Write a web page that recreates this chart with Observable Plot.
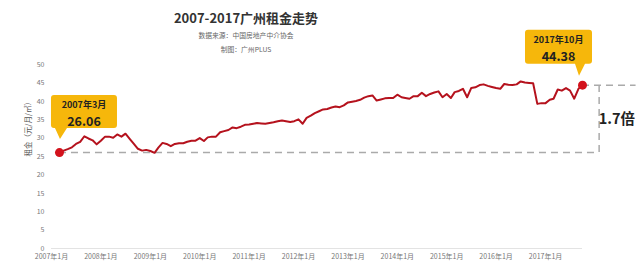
<!DOCTYPE html>
<html><head><meta charset="utf-8">
<script src="https://cdn.jsdelivr.net/npm/d3@7"></script>
<script src="https://cdn.jsdelivr.net/npm/@observablehq/plot@0.6"></script>
<style>
body{margin:0;background:#fff;font-family:"Noto Sans CJK SC","Noto Sans",sans-serif}
#wrap{position:relative;width:640px;height:275px;overflow:hidden}
#wrap svg{position:absolute;left:0;top:0}
.t{position:absolute;left:0;width:492px;text-align:center;white-space:nowrap;line-height:1}
</style></head><body>
<div id="wrap">
<div class="t" style="top:10.5px;font-size:13px;font-weight:bold;color:#333">2007-2017广州租金走势</div>
<div class="t" style="top:31.5px;font-size:6.8px;color:#666">数据来源：中国房地产中介协会</div>
<div class="t" style="top:45.5px;font-size:6.8px;color:#666">制图：广州PLUS</div>
</div>
<script>
// Monthly rent (元/月/㎡)
const rent2007 = [26.06, 26.6, 27.0, 27.5, 28.4, 29.0, 30.5, 29.9, 29.4, 28.3]; // Mar–Dec
const rent2008 = [29.3, 30.4, 30.4, 30.1, 31.0, 30.4, 31.2, 29.8, 28.4, 27.1, 26.6, 26.8];
const rent2009 = [26.5, 26.0, 27.4, 28.7, 28.4, 27.8, 28.4, 28.6, 28.6, 29.0, 29.3, 29.3];
const rent2010 = [30.0, 29.2, 30.2, 30.4, 30.4, 31.6, 31.9, 32.2, 32.9, 32.7, 33.1, 33.6];
const rent2011 = [33.7, 33.9, 34.1, 34.0, 33.9, 34.1, 34.3, 34.6, 34.8, 34.6, 34.4, 34.6];
const rent2012 = [35.1, 33.9, 35.5, 36.1, 36.8, 37.3, 37.8, 37.9, 38.3, 38.6, 38.4, 38.9];
const rent2013 = [39.7, 39.9, 40.1, 40.4, 41.0, 41.4, 41.6, 40.2, 40.5, 40.8, 40.9, 40.9];
const rent2014 = [41.8, 41.1, 40.9, 40.7, 41.4, 41.4, 42.3, 41.4, 42.0, 42.4, 42.7, 41.1];
const rent2015 = [42.0, 40.9, 42.5, 42.8, 43.4, 41.1, 43.6, 43.8, 44.4, 44.6, 44.2, 43.9];
const rent2016 = [43.6, 43.4, 44.7, 44.5, 44.4, 44.6, 45.4, 45.1, 45.0, 44.9, 39.3, 39.5];
const rent2017 = [39.5, 40.4, 40.7, 43.2, 42.9, 43.6, 42.9, 40.7, 43.4, 44.38]; // Jan–Oct

const yearSeries = [
  [2007, 3, rent2007], [2008, 1, rent2008], [2009, 1, rent2009], [2010, 1, rent2010],
  [2011, 1, rent2011], [2012, 1, rent2012], [2013, 1, rent2013], [2014, 1, rent2014],
  [2015, 1, rent2015], [2016, 1, rent2016], [2017, 1, rent2017]
];
const tickYears = [2007, 2008, 2009, 2010, 2011, 2012, 2013, 2014, 2015, 2016, 2017];
const yTicks = [0, 5, 10, 15, 20, 25, 30, 35, 40, 45, 50];
const yLabel = "租金（元/月/㎡）";
const ratioLabel = "1.7倍";
const xDomain = ["2007-01-01", "2017-10-01"];
const bracketDate = "2018-02-01";
const rightEndDate = "2018-11-01";
const ratioDate = "2018-06-12";

const data = [];
for (const [yr, m0, vals] of yearSeries) {
  vals.forEach((v, i) => data.push({date: new Date(Date.UTC(yr, m0 - 1 + i, 1)), value: v}));
}
const first = data[0], last = data[data.length - 1];
const D = s => new Date(s + "T00:00:00Z");
const FONT = '"Noto Sans CJK SC","Noto Sans",sans-serif';

const plot = Plot.plot({
  width: 640, height: 275,
  marginLeft: 51, marginRight: 58, marginTop: 64, marginBottom: 27,
  style: {fontFamily: FONT, fontSize: "7px", color: "#777", background: "transparent", overflow: "visible"},
  x: {type: "utc", domain: xDomain.map(D)},
  y: {domain: [0, 50]},
  marks: [
    Plot.axisY({ticks: yTicks, tickSize: 0, tickPadding: 7, label: null, fill: "#777", fontSize: 7}),
    Plot.axisX({ticks: tickYears.map(y => new Date(Date.UTC(y, 0, 1))),
      tickFormat: d => `${d.getUTCFullYear()}年1月`, tickSize: 0, tickPadding: 6, label: null, fill: "#777", fontSize: 7}),
    Plot.ruleY([0], {stroke: "#e3e3e3", strokeWidth: 1}),
    Plot.text([yLabel], {text: d => d, frameAnchor: "left", y: [d3.mean([0, 50])], dx: -23, rotate: -90, fontSize: 7.5, fill: "#555"}),
    // dashed comparison lines
    Plot.ruleY([first], {y: "value", x1: d => d.date, x2: () => D(bracketDate), stroke: "#aaa", strokeWidth: 1.5, strokeDasharray: "7,5"}),
    Plot.ruleY([last], {y: "value", x1: d => d.date, x2: () => D(rightEndDate), stroke: "#aaa", strokeWidth: 1.5, strokeDasharray: "7,5"}),
    Plot.ruleX([D(bracketDate)], {y1: first.value, y2: last.value, stroke: "#aaa", strokeWidth: 1.5, strokeDasharray: "7,5"}),
    Plot.text([ratioLabel], {text: d => d, x: () => D(ratioDate), y: () => (first.value + last.value) / 2, fontSize: 14.5, fontWeight: "bold", fill: "#222"}),
    Plot.lineY(data, {x: "date", y: "value", stroke: "#b5121d", strokeWidth: 2}),
    Plot.dot([first, last], {x: "date", y: "value", r: 4.5, fill: "#d3121c", stroke: "none"})
  ]
});
document.getElementById("wrap").prepend(plot);

// callouts anchored to the first / last points through the scales
const sx = plot.scale("x"), sy = plot.scale("y");
const svg = d3.select(plot);
function callout(pt, box, tip, base, lines) {
  const px = sx.apply(pt.date), py = sy.apply(pt.value);
  const x0 = px + box[0], x1 = px + box[1], y0 = py + box[2], y1 = py + box[3], r = 3;
  const path = `M${x0 + r},${y0} H${x1 - r} Q${x1},${y0} ${x1},${y0 + r} V${y1 - r} Q${x1},${y1} ${x1 - r},${y1}
    H${px + base[1]} L${px + tip[0]},${py + tip[1]} L${px + base[0]},${y1}
    H${x0 + r} Q${x0},${y1} ${x0},${y1 - r} V${y0 + r} Q${x0},${y0} ${x0 + r},${y0} Z`;
  const g = svg.append("g");
  g.append("path").attr("d", path).attr("fill", "#f6b70b");
  const cx = (x0 + x1) / 2;
  for (const [text, dy, size] of lines) {
    g.append("text").attr("x", cx).attr("y", py + dy).attr("text-anchor", "middle")
      .attr("dominant-baseline", "central").attr("font-family", FONT)
      .attr("font-weight", "bold").attr("font-size", size).attr("fill", "#222").text(text);
  }
}
callout(first, [-8, 58, -57, -24], [1, -13], [-4, 8], [["2007年3月", -48, 9], [first.value.toFixed(2), -32, 12.5]]);
callout(last, [-57, 10, -55, -21], [-3, -9], [-7, 3], [["2017年10月", -45, 9], [last.value.toFixed(2), -29, 12.5]]);
</script>
</body></html>
